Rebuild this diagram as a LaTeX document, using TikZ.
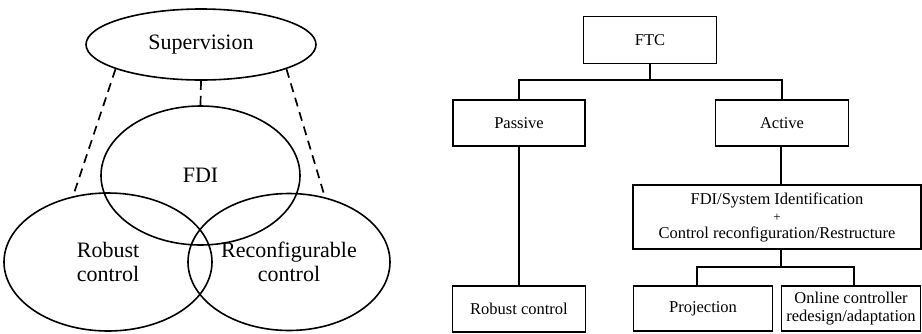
\documentclass[tikz,border=0pt]{standalone}
\usepackage{fontspec}
\setmainfont{Liberation Serif}
\usetikzlibrary{shapes.geometric}

\begin{document}
\begin{tikzpicture}[x=1pt, y=-1pt,
	oval/.style={draw, line width=1.6pt, ellipse, inner sep=0pt, align=center, font=\fontsize{22}{24}\selectfont},
	box/.style={draw, line width=1.6pt, rectangle, inner sep=0pt, align=center, font=\fontsize{16.5}{18}\selectfont},
	link/.style={line width=1.6pt},
	hint/.style={line width=1.7pt, dash pattern=on 9pt off 6pt}]% {{{ Supervision / FTC tree
	\useasboundingbox (0,0) rectangle (922,333);

	% left: the three overlapping fields
	\node[oval, minimum width=230pt, minimum height=71pt] (sup) at (201,44.5) {Supervision};
	\node[oval, minimum width=199pt, minimum height=139pt] (fdi) at (200.5,175.5) {FDI};
	\node[oval, minimum width=208pt, minimum height=138pt] (robust) at (108,262) {Robust\\control};
	\node[oval, minimum width=202pt, minimum height=137pt] (reconf) at (289,262) {Reconfigurable\\control};

	\draw[hint] (sup.196) -- (robust.118);
	\draw[hint] (sup.south) -- (fdi.north);
	\draw[hint] (sup.344) -- (reconf.61);

	% right: FTC tree
	\node[box, minimum width=133pt, minimum height=47pt] (ftc) at (650,40) {FTC};
	\node[box, minimum width=132pt, minimum height=46pt] (passive) at (519,123) {Passive};
	\node[box, minimum width=133pt, minimum height=46pt] (active) at (782,123) {Active};
	\node[box, minimum width=133pt, minimum height=46pt] (robustctl) at (519,309) {Robust control};
	\node[box, minimum width=288pt, minimum height=64pt] (fdisys) at (777,217)
		{FDI/System Identification\\[-1pt]{\fontsize{13}{13}\selectfont +}\\[-1pt]Control reconfiguration/Restructure};
	\node[box, minimum width=139pt, minimum height=45pt] (proj) at (703,308.5) {Projection};
	\node[box, minimum width=139pt, minimum height=45pt] (online) at (851,308.7) {Online controller\\redesign/adaptation};

	\coordinate (fork) at (650,80);
	\coordinate (fork2) at (781,267);
	\draw[link] (ftc.south) -- (fork);
	\draw[link] (passive.north) |- (fork) -| (active.north);
	\draw[link] (passive.south) -- (robustctl.north);
	\draw[link] ([xshift=-1pt]active.south) -- (fdisys.north -| fork2);
	\draw[link] (fdisys.south -| fork2) -- (fork2);
	\draw[link] ([xshift=-6pt]proj.north) |- (fork2) -| ([xshift=3pt]online.north);
\end{tikzpicture}% }}}
\end{document}
